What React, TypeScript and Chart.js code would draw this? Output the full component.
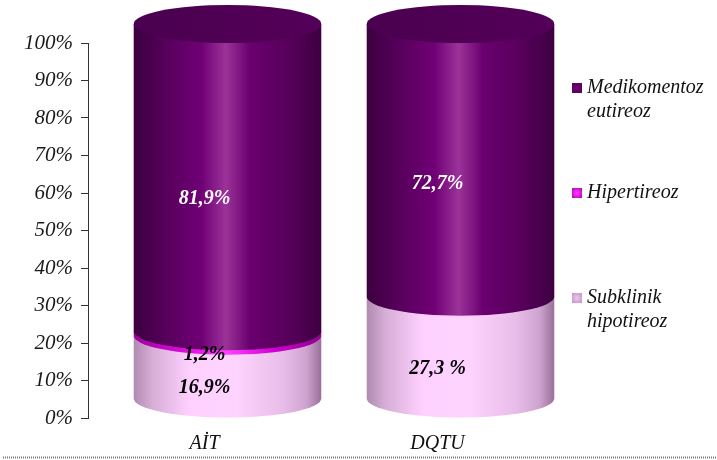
import React, { useEffect, useRef } from 'react';
import { Chart, registerables } from 'chart.js';

Chart.register(...registerables);

const categories = ['AİT', 'DQTU'];
const seriesNames = ['Subklinik hipotireoz', 'Hipertireoz', 'Medikomentoz eutireoz'];
const subklinik = [16.9, 27.3];
const hipertireoz = [1.2, 0];
const medikomentoz = [81.9, 72.7];
const subklinikLabels = ['16,9%', '27,3 %'];
const hipertireozLabels = ['1,2%', ''];
const medikomentozLabels = ['81,9%', '72,7%'];
const legendLines = [['Medikomentoz', 'eutireoz'], ['Hipertireoz'], ['Subklinik', 'hipotireoz']];

const FONT = "'Liberation Serif', 'Times New Roman', serif";
const RY = 19;
const DX = 23;

const bodyStops: [number, string][][] = [
  [[0, '#b08ab0'], [0.1, '#d6aed6'], [0.3, '#ffd0ff'], [0.55, '#fdd4fd'], [0.8, '#e8bce8'], [0.92, '#cfa3cf'], [1, '#9a709a']],
  [[0, '#a000a0'], [0.3, '#e010e0'], [0.5, '#ff40ff'], [0.75, '#d000d0'], [1, '#900090']],
  [[0, '#3c003f'], [0.18, '#58005d'], [0.36, '#700075'], [0.49, '#9b3399'], [0.62, '#6a006f'], [0.82, '#58005c'], [1, '#3e0041']],
];
const textColors = ['#000000', '#000000', '#ffffff'];

const cylinderPlugin = {
  id: 'cylinders',
  afterDatasetsDraw(chart: any) {
    const ctx = chart.ctx as CanvasRenderingContext2D;
    const n = chart.data.labels.length;
    const nds = chart.data.datasets.length;
    for (let j = 0; j < n; j++) {
      let lastTop: any = null;
      for (let i = 0; i < nds; i++) {
        const v = chart.data.datasets[i].data[j];
        if (!v) continue;
        const el = chart.getDatasetMeta(i).data[j];
        const { x, y, base, width } = el.getProps(['x', 'y', 'base', 'width'], true);
        const cx = x + DX;
        const left = cx - width / 2;
        const right = cx + width / 2;
        const yt = y - RY;
        const yb = base - RY;
        const g = ctx.createLinearGradient(left, 0, right, 0);
        bodyStops[i].forEach(([o, c]) => g.addColorStop(o, c));
        ctx.save();
        ctx.beginPath();
        ctx.moveTo(left, yt);
        ctx.lineTo(left, yb);
        ctx.ellipse(cx, yb, width / 2, RY, 0, Math.PI, 0, true);
        ctx.lineTo(right, yt);
        ctx.closePath();
        ctx.fillStyle = g;
        ctx.fill();
        ctx.restore();
        lastTop = { cx, yt, width };
      }
      if (lastTop) {
        const { cx, yt, width } = lastTop;
        const g = ctx.createLinearGradient(cx - width / 2, 0, cx + width / 2, 0);
        g.addColorStop(0, '#4a004f');
        g.addColorStop(1, '#540059');
        ctx.save();
        ctx.beginPath();
        ctx.ellipse(cx, yt, width / 2, RY, 0, 0, Math.PI * 2);
        ctx.fillStyle = g;
        ctx.fill();
        ctx.restore();
      }
    }
    // value labels
    const labelSets = [subklinikLabels, hipertireozLabels, medikomentozLabels];
    ctx.save();
    ctx.font = `italic bold 20px ${FONT}`;
    ctx.textAlign = 'center';
    ctx.textBaseline = 'middle';
    for (let i = 0; i < nds; i++) {
      const meta = chart.getDatasetMeta(i);
      for (let j = 0; j < n; j++) {
        const txt = labelSets[i][j];
        if (!txt) continue;
        const el = meta.data[j];
        const { x, y, base } = el.getProps(['x', 'y', 'base'], true);
        let ly = (y + base) / 2 + 2;
        if (i === 2 && j === 1) ly += 3;
        ctx.fillStyle = textColors[i];
        ctx.fillText(txt, x, ly);
      }
    }
    ctx.restore();
  },
  afterDraw(chart: any) {
    const ctx = chart.ctx as CanvasRenderingContext2D;
    // legend
    const markerColors = [
      ['#6a006e', '#5a005e'],
      ['#ff30ff', '#b000b0'],
      ['#e8c0e8', '#c090c0'],
    ];
    const ys = [88, 193, 298];
    ctx.save();
    ctx.font = `italic 20px ${FONT}`;
    ctx.textBaseline = 'middle';
    ctx.textAlign = 'left';
    legendLines.forEach((lines, k) => {
      const y0 = ys[k];
      const mg = ctx.createRadialGradient(577, y0, 1, 577, y0, 7);
      mg.addColorStop(0, markerColors[k][0]);
      mg.addColorStop(1, markerColors[k][1]);
      ctx.fillStyle = mg;
      ctx.fillRect(572, y0 - 5, 10, 10);
      ctx.fillStyle = '#111';
      lines.forEach((line, li) => ctx.fillText(line, 587, y0 + li * 24));
    });
    // bottom dotted border
    ctx.beginPath();
    ctx.setLineDash([1, 1]);
    ctx.lineWidth = 2;
    ctx.strokeStyle = '#7a7a7a';
    ctx.moveTo(3, 457.5);
    ctx.lineTo(717, 457.5);
    ctx.stroke();
    ctx.restore();
  },
};

export default function App() {
  const ref = useRef<HTMLCanvasElement>(null);
  useEffect(() => {
    if (!ref.current) return;
    const chart = new Chart(ref.current, {
      type: 'bar',
      data: {
        labels: categories,
        datasets: [
          { label: seriesNames[0], data: subklinik, backgroundColor: 'rgba(0,0,0,0)' },
          { label: seriesNames[1], data: hipertireoz, backgroundColor: 'rgba(0,0,0,0)' },
          { label: seriesNames[2], data: medikomentoz, backgroundColor: 'rgba(0,0,0,0)' },
        ],
      },
      options: {
        animation: false,
        responsive: true,
        maintainAspectRatio: false,
        layout: { padding: { top: 43, right: 163, left: 0, bottom: 0 } },
        plugins: { legend: { display: false }, tooltip: { enabled: false } },
        datasets: { bar: { categoryPercentage: 1, barPercentage: 0.805 } },
        scales: {
          x: {
            stacked: true,
            grid: { display: false, drawTicks: false },
            border: { display: false },
            ticks: { color: '#111', font: { family: FONT, size: 20, style: 'italic' }, padding: 14 },
            afterFit: (s: any) => { s.height = 42; },
          },
          y: {
            stacked: true,
            min: 0,
            max: 100,
            ticks: {
              stepSize: 10,
              color: '#1a1a1a',
              padding: 8,
              font: { family: FONT, size: 21, style: 'italic' },
              callback: (v: any) => `${v}%`,
            },
            grid: { display: true, drawOnChartArea: false, drawTicks: true, tickLength: 7, color: '#333' },
            border: { display: true, color: '#333', width: 1 },
            afterFit: (s: any) => { s.width = 88; },
          },
        },
      },
      plugins: [cylinderPlugin],
    });
    return () => chart.destroy();
  }, []);
  return (
    <div style={{ position: 'fixed', left: 0, top: 0, width: 717, height: 460, background: '#fff' }}>
      <canvas ref={ref} />
    </div>
  );
}
